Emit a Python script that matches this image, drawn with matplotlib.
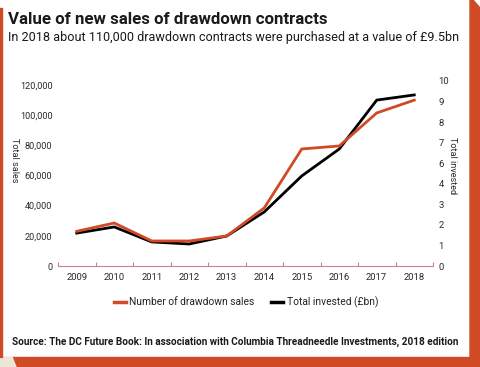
import matplotlib
matplotlib.use("Agg")
import matplotlib.pyplot as plt  # noqa: E402
from matplotlib.patches import Polygon, Rectangle  # noqa: E402
from matplotlib.lines import Line2D  # noqa: E402

YEARS = ["2009", "2010", "2011", "2012", "2013", "2014", "2015", "2016", "2017", "2018"]
SALES = [23000, 28500, 16600, 16600, 19900, 38500, 77600, 79600, 101500, 110000]
# total invested, read against the printed right-hand tick positions
INVESTED = [1.6, 1.9, 1.17, 1.07, 1.46, 2.63, 4.38, 5.69, 8.07, 8.32]
LEFT_TICKS = [0, 20000, 40000, 60000, 80000, 100000, 120000]
LEFT_LABELS = ["0", "20,000", "40,000", "60,000", "80,000", "100,000", "120,000"]
RIGHT_TICKS = list(range(10))
RIGHT_LABELS = ["0", "1", "2", "3", "4", "6", "7", "8", "9", "10"]

ORANGE = "#d04a25"
PINK = "#c77fa5"
NARROW = "Roboto"

W, H = 480, 367
fig = plt.figure(figsize=(W / 100, H / 100), dpi=100)


def px(x, y):
    return (x / W, 1 - y / H)


# card frame
fig.patches.append(Rectangle((0, 0), 1, 1, transform=fig.transFigure, color="white", zorder=-5))
fig.patches.append(Polygon([px(470, 0), px(473, 0), px(480, 8), px(480, 367), px(470, 367)],
                           closed=True, transform=fig.transFigure, color=ORANGE, zorder=-4))
fig.patches.append(Polygon([px(12, 357), px(480, 357), px(480, 367), px(16, 367)],
                           closed=True, transform=fig.transFigure, color=ORANGE, zorder=-4))
fig.patches.append(Polygon([px(0, 357), px(12, 357), px(16, 367), px(0, 367)],
                           closed=True, transform=fig.transFigure, color="#ece6d8", zorder=-4))
fig.patches.append(Rectangle(px(0, 357), 2 / W, 349 / H, transform=fig.transFigure,
                             color=ORANGE, zorder=-4))

ax = fig.add_axes([58 / W, 101 / H, 375 / W, 191 / H])
ax.patch.set_alpha(0)
x = list(range(len(YEARS)))
ax.plot(x, SALES, color=ORANGE, lw=2.0, solid_joinstyle="miter", zorder=3)
ax.set_xlim(-0.5, len(YEARS) - 0.5)
ax.set_ylim(0, 126660)
ax.set_yticks(LEFT_TICKS)
ax.set_yticklabels(LEFT_LABELS, color="#2a2a2a", fontsize=6.6, family=NARROW)
ax.set_xticks(x)
ax.set_xticklabels(YEARS, color="#2a2a2a", fontsize=6.8, family=NARROW)
ax.set_xticks([i - 0.5 for i in range(len(YEARS) + 1)], minor=True)
ax.tick_params(axis="x", which="major", length=0, pad=5)
ax.tick_params(axis="x", which="minor", length=3, direction="in", color=PINK, width=0.8)
ax.tick_params(axis="y", length=0, pad=4)
for s in ("top", "left", "right"):
    ax.spines[s].set_visible(False)
ax.spines["bottom"].set_color(PINK)
ax.spines["bottom"].set_linewidth(0.8)

ax2 = ax.twinx()
ax2.plot(x, INVESTED, color="black", lw=2.0, solid_joinstyle="miter", zorder=2)
ax2.set_ylim(0, 9.29)
ax2.set_yticks(RIGHT_TICKS)
ax2.set_yticklabels(RIGHT_LABELS, color="#2a2a2a", fontsize=6.8, family=NARROW)
ax2.tick_params(axis="y", length=0, pad=4)
for s in ("top", "left", "right", "bottom"):
    ax2.spines[s].set_visible(False)
ax.set_zorder(ax2.get_zorder() + 1)

fig.text(*px(14, 160), "Total sales", rotation=270, color="#2a2a2a", fontsize=6.6,
         family=NARROW, ha="center", va="center")
fig.text(*px(452, 166), "Total invested", rotation=270, color="#2a2a2a", fontsize=6.6,
         family=NARROW, ha="center", va="center")

handles = [Line2D([], [], color=ORANGE, lw=2.5), Line2D([], [], color="black", lw=2.5)]
fig.legend(handles, ["Number of drawdown sales", "Total invested (£bn)"],
           loc="center", bbox_to_anchor=px(246, 302), ncol=2, frameon=False,
           handlelength=1.2, handletextpad=0.3, columnspacing=1.6,
           prop=dict(size=7.4, family=NARROW), labelcolor="#222222")

fig.text(*px(8, 20), "Value of new sales of drawdown contracts", fontsize=12.2,
         fontweight="bold", color="#1a1a1a", va="center", ha="left", family="Roboto")
fig.text(*px(8, 38), "In 2018 about 110,000 drawdown contracts were purchased at a value of £9.5bn",
         fontsize=9.1, color="#1a1a1a", va="center", ha="left", family="Roboto")
fig.text(*px(12, 342), "Source: The DC Future Book: In association with Columbia Threadneedle "
         "Investments, 2018 edition", fontsize=7.2, fontweight="bold", color="#1a1a1a",
         va="center", ha="left", family="Roboto")

fig.savefig("out.png", dpi=100)
